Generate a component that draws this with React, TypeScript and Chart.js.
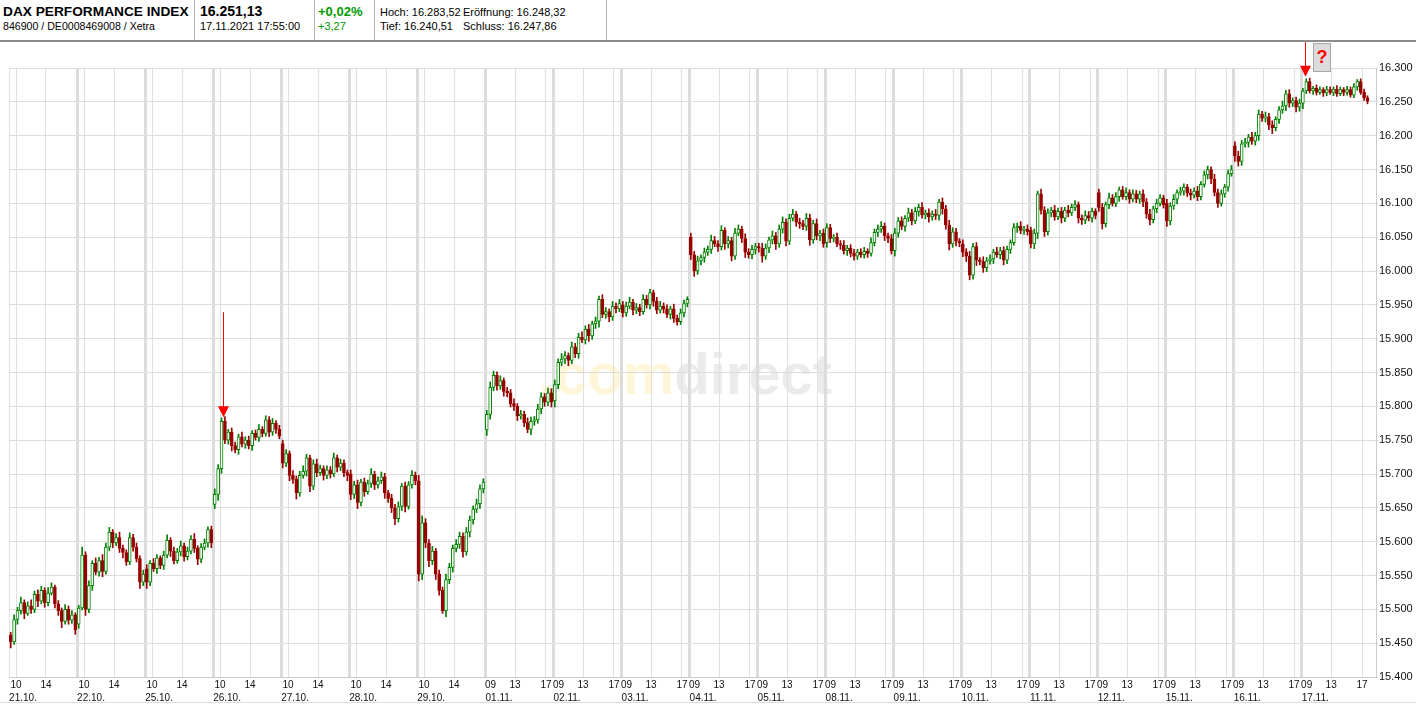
import React, { useEffect, useRef } from 'react';
import { Chart, registerables } from 'chart.js';

Chart.register(...registerables);

// ---- trading days (x axis) ----
const dayLabels = ['21.10.', '22.10.', '25.10.', '26.10.', '27.10.', '28.10.', '29.10.', '01.11.', '02.11.', '03.11.', '04.11.', '05.11.', '08.11.', '09.11.', '10.11.', '11.11.', '12.11.', '15.11.', '16.11.', '17.11.'];
const winterTimeFromDay = 7; // from 01.11. the session ticks are 09 / 13 / 17

// intraday tick labels and their position within a trading day (fraction of day)
const summerTickLabels = ['10', '14'];
const summerTickFractions = [0.103, 0.544];
const winterTickLabels = ['09', '13', '17'];
const winterTickFractions = [0.08, 0.441, 0.895];
const winterTickHasLine = [false, true, true];
const dateLabelFraction = 0.206;

// ---- prices: opening value of each day and closes of the intraday candles ----
const dayOpens = [15462, 15478, 15560, 15655, 15745, 15700, 15690, 15765, 15808, 15950, 16050, 16036, 16042, 16030, 16040, 16060, 16116, 16100, 16185, 16248];

const closes_21_10 = [15452, 15485, 15498, 15510, 15494, 15505, 15500, 15522, 15512, 15528, 15510, 15524, 15533, 15508, 15498, 15482, 15500, 15484, 15492, 15470];
const closes_22_10 = [15502, 15580, 15500, 15535, 15568, 15555, 15572, 15556, 15592, 15614, 15598, 15606, 15590, 15584, 15570, 15606, 15592, 15575, 15540, 15552];
const closes_25_10 = [15540, 15568, 15560, 15576, 15565, 15580, 15602, 15586, 15572, 15585, 15594, 15578, 15586, 15604, 15590, 15574, 15592, 15598, 15618, 15598];
const closes_26_10 = [15670, 15708, 15778, 15750, 15762, 15742, 15736, 15755, 15744, 15750, 15742, 15760, 15754, 15766, 15760, 15780, 15762, 15775, 15766, 15756];
const closes_27_10 = [15716, 15730, 15698, 15692, 15672, 15698, 15704, 15724, 15682, 15715, 15702, 15708, 15698, 15706, 15700, 15724, 15710, 15716, 15702, 15698];
const closes_28_10 = [15670, 15684, 15658, 15688, 15674, 15686, 15700, 15684, 15690, 15696, 15672, 15664, 15650, 15634, 15652, 15682, 15652, 15684, 15698, 15690];
const closes_29_10 = [15552, 15628, 15598, 15572, 15586, 15552, 15528, 15498, 15544, 15562, 15590, 15596, 15608, 15585, 15614, 15632, 15648, 15656, 15678, 15688];
const closes_01_11 = [15788, 15828, 15846, 15830, 15838, 15822, 15820, 15804, 15800, 15786, 15788, 15776, 15766, 15778, 15780, 15796, 15814, 15806, 15820, 15806];
const closes_02_11 = [15832, 15865, 15870, 15875, 15868, 15888, 15878, 15902, 15898, 15914, 15904, 15922, 15926, 15958, 15936, 15940, 15932, 15948, 15944, 15952];
const closes_03_11 = [15938, 15948, 15954, 15942, 15946, 15940, 15958, 15950, 15968, 15955, 15942, 15948, 15944, 15936, 15944, 15930, 15925, 15938, 15952, 15958];
const closes_04_11 = [16024, 16000, 16015, 16020, 16028, 16032, 16045, 16040, 16036, 16060, 16040, 16045, 16022, 16056, 16062, 16048, 16028, 16024, 16032, 16036];
const closes_05_11 = [16034, 16022, 16034, 16046, 16052, 16040, 16062, 16072, 16044, 16078, 16084, 16072, 16070, 16066, 16078, 16046, 16070, 16052, 16056, 16040];
const closes_08_11 = [16064, 16048, 16050, 16040, 16038, 16030, 16034, 16026, 16022, 16028, 16024, 16029, 16026, 16042, 16057, 16062, 16066, 16052, 16048, 16030];
const closes_09_11 = [16056, 16074, 16066, 16078, 16086, 16074, 16088, 16094, 16083, 16086, 16080, 16084, 16082, 16102, 16092, 16068, 16040, 16058, 16044, 16042];
const closes_10_11 = [16028, 16022, 15994, 16036, 16016, 16014, 16005, 16015, 16018, 16028, 16024, 16030, 16016, 16032, 16042, 16064, 16066, 16060, 16062, 16058];
const closes_11_11 = [16040, 16056, 16114, 16090, 16058, 16086, 16090, 16080, 16088, 16078, 16090, 16086, 16094, 16098, 16078, 16075, 16082, 16078, 16088, 16082];
const closes_12_11 = [16094, 16070, 16098, 16108, 16100, 16110, 16120, 16110, 16116, 16106, 16114, 16106, 16114, 16102, 16084, 16076, 16092, 16100, 16108, 16098];
const closes_15_11 = [16074, 16096, 16106, 16116, 16118, 16124, 16115, 16112, 16118, 16110, 16128, 16142, 16150, 16136, 16116, 16100, 16114, 16124, 16144, 16150];
const closes_16_11 = [16170, 16162, 16188, 16190, 16198, 16192, 16200, 16232, 16226, 16228, 16216, 16212, 16224, 16238, 16244, 16262, 16248, 16252, 16242, 16248];
const closes_17_11 = [16266, 16280, 16266, 16270, 16264, 16268, 16263, 16268, 16264, 16269, 16262, 16268, 16264, 16268, 16260, 16272, 16280, 16264, 16256, 16251];

const dayCloses = [closes_21_10, closes_22_10, closes_25_10, closes_26_10, closes_27_10, closes_28_10, closes_29_10, closes_01_11, closes_02_11, closes_03_11, closes_04_11, closes_05_11, closes_08_11, closes_09_11, closes_10_11, closes_11_11, closes_12_11, closes_15_11, closes_16_11, closes_17_11];

// ---- wick lengths (points above the body / below the body) ----
const wickUp_21_10 = [4, 7, 5, 8, 4, 6, 9, 5, 7, 6, 4, 8, 6, 3, 5, 4, 7, 5, 6, 3];
const wickDn_21_10 = [9, 4, 7, 5, 8, 3, 6, 5, 8, 4, 7, 5, 3, 6, 7, 9, 4, 6, 5, 7];
const wickUp_22_10 = [4, 12, 5, 7, 4, 8, 5, 9, 6, 7, 4, 6, 8, 5, 4, 7, 5, 6, 4, 6];
const wickDn_22_10 = [6, 3, 9, 5, 7, 4, 6, 8, 4, 5, 7, 4, 6, 8, 5, 4, 6, 5, 9, 5];
const wickUp_25_10 = [6, 4, 7, 5, 3, 6, 8, 4, 6, 5, 7, 4, 6, 5, 8, 4, 5, 6, 4, 5];
const wickDn_25_10 = [9, 5, 4, 7, 5, 6, 4, 8, 5, 4, 6, 7, 5, 4, 6, 8, 5, 4, 6, 7];
const wickUp_26_10 = [8, 6, 5, 7, 4, 6, 5, 4, 7, 5, 6, 4, 5, 7, 4, 6, 5, 7, 4, 6];
const wickDn_26_10 = [6, 9, 7, 5, 6, 8, 5, 7, 4, 6, 5, 7, 4, 6, 5, 4, 7, 5, 6, 4];
const wickUp_27_10 = [5, 6, 4, 7, 5, 6, 8, 5, 4, 6, 7, 5, 4, 6, 5, 7, 4, 6, 5, 4];
const wickDn_27_10 = [7, 5, 8, 6, 9, 5, 4, 7, 8, 5, 6, 4, 7, 5, 6, 4, 7, 5, 6, 8];
const wickUp_28_10 = [6, 5, 7, 4, 6, 5, 8, 4, 6, 7, 5, 4, 6, 5, 7, 4, 6, 5, 7, 5];
const wickDn_28_10 = [8, 6, 9, 5, 7, 4, 6, 7, 5, 4, 8, 6, 7, 9, 5, 6, 8, 4, 5, 6];
const wickUp_29_10 = [8, 10, 6, 5, 7, 4, 6, 5, 8, 6, 5, 7, 6, 5, 7, 6, 5, 7, 6, 5];
const wickDn_29_10 = [10, 8, 7, 9, 6, 8, 7, 4, 9, 6, 7, 5, 6, 8, 5, 7, 6, 5, 7, 6];
const wickUp_01_11 = [6, 8, 6, 5, 7, 4, 6, 5, 7, 4, 6, 5, 7, 6, 5, 7, 6, 5, 7, 6];
const wickDn_01_11 = [8, 7, 5, 6, 5, 7, 6, 5, 6, 7, 5, 6, 5, 8, 6, 5, 7, 6, 5, 7];
const wickUp_02_11 = [7, 5, 8, 6, 4, 7, 5, 6, 8, 5, 7, 4, 6, 5, 7, 6, 4, 7, 5, 6];
const wickDn_02_11 = [9, 6, 5, 7, 8, 5, 6, 7, 4, 6, 8, 5, 7, 9, 5, 6, 7, 5, 6, 4];
const wickUp_03_11 = [5, 6, 7, 4, 6, 5, 7, 6, 5, 4, 6, 7, 5, 6, 4, 7, 5, 6, 5, 4];
const wickDn_03_11 = [6, 5, 4, 7, 5, 6, 4, 5, 6, 7, 5, 4, 6, 5, 7, 6, 5, 4, 6, 5];
const wickUp_04_11 = [6, 5, 7, 4, 6, 5, 8, 6, 5, 7, 4, 6, 5, 7, 6, 4, 7, 5, 6, 5];
const wickDn_04_11 = [7, 8, 5, 6, 7, 5, 6, 4, 7, 5, 8, 6, 7, 5, 4, 6, 8, 5, 6, 7];
const wickUp_05_11 = [5, 7, 6, 4, 7, 5, 6, 8, 5, 6, 7, 4, 6, 5, 7, 6, 5, 7, 4, 6];
const wickDn_05_11 = [6, 9, 5, 7, 6, 8, 5, 6, 7, 5, 4, 6, 7, 5, 6, 8, 5, 6, 7, 5];
const wickUp_08_11 = [6, 5, 4, 6, 5, 7, 4, 5, 6, 4, 5, 6, 4, 7, 5, 6, 7, 5, 4, 6];
const wickDn_08_11 = [7, 6, 5, 4, 6, 5, 7, 5, 6, 5, 4, 5, 6, 4, 5, 6, 5, 7, 6, 5];
const wickUp_09_11 = [7, 5, 6, 4, 7, 5, 6, 5, 7, 4, 6, 5, 7, 4, 6, 5, 7, 6, 5, 4];
const wickDn_09_11 = [8, 6, 5, 7, 5, 6, 4, 7, 5, 6, 8, 5, 6, 7, 8, 6, 9, 5, 7, 6];
const wickUp_10_11 = [6, 5, 7, 5, 6, 4, 7, 5, 6, 4, 7, 5, 6, 5, 4, 6, 5, 7, 4, 6];
const wickDn_10_11 = [7, 8, 7, 6, 8, 5, 7, 6, 5, 7, 4, 6, 7, 5, 6, 4, 7, 5, 6, 5];
const wickUp_11_11 = [5, 6, 4, 7, 5, 6, 4, 7, 5, 6, 4, 7, 5, 6, 4, 5, 7, 6, 5, 4];
const wickDn_11_11 = [6, 7, 8, 6, 7, 5, 6, 5, 4, 7, 5, 6, 4, 5, 7, 6, 5, 4, 6, 5];
const wickUp_12_11 = [5, 6, 4, 7, 5, 6, 4, 5, 7, 4, 6, 5, 4, 6, 5, 7, 4, 6, 5, 4];
const wickDn_12_11 = [6, 8, 5, 6, 4, 5, 7, 4, 5, 6, 4, 5, 6, 7, 6, 8, 5, 6, 4, 5];
const wickUp_15_11 = [6, 5, 7, 4, 6, 5, 4, 6, 5, 7, 4, 6, 5, 4, 7, 5, 6, 4, 5, 6];
const wickDn_15_11 = [8, 6, 5, 7, 4, 6, 5, 7, 4, 6, 5, 4, 6, 7, 5, 6, 4, 5, 6, 4];
const wickUp_16_11 = [6, 7, 5, 6, 4, 7, 5, 6, 4, 7, 5, 6, 4, 5, 7, 5, 6, 4, 5, 6];
const wickDn_16_11 = [8, 7, 6, 5, 7, 5, 6, 7, 5, 6, 7, 9, 5, 6, 5, 7, 6, 5, 7, 6];
const wickUp_17_11 = [4, 4, 5, 3, 5, 4, 3, 5, 4, 3, 5, 4, 3, 5, 4, 5, 3, 4, 5, 3];
const wickDn_17_11 = [8, 4, 3, 5, 4, 3, 5, 4, 3, 5, 4, 3, 5, 4, 3, 4, 5, 3, 4, 4];

const wickUps = [wickUp_21_10, wickUp_22_10, wickUp_25_10, wickUp_26_10, wickUp_27_10, wickUp_28_10, wickUp_29_10, wickUp_01_11, wickUp_02_11, wickUp_03_11, wickUp_04_11, wickUp_05_11, wickUp_08_11, wickUp_09_11, wickUp_10_11, wickUp_11_11, wickUp_12_11, wickUp_15_11, wickUp_16_11, wickUp_17_11];
const wickDns = [wickDn_21_10, wickDn_22_10, wickDn_25_10, wickDn_26_10, wickDn_27_10, wickDn_28_10, wickDn_29_10, wickDn_01_11, wickDn_02_11, wickDn_03_11, wickDn_04_11, wickDn_05_11, wickDn_08_11, wickDn_09_11, wickDn_10_11, wickDn_11_11, wickDn_12_11, wickDn_15_11, wickDn_16_11, wickDn_17_11];

// ---- y axis ----
const yMin = 15400;
const yMax = 16300;
const yStep = 50;

// ---- markers (arrows): position in day units and price of the tip / top of the stem ----
const markerX = [3.151, 19.06];
const markerTip = [15784, 16287];
const markerTop = [15939, null];

// ---- header texts ----
const instrumentName = 'DAX PERFORMANCE INDEX';
const instrumentIds = '846900 / DE0008469008 / Xetra';
const lastPrice = '16.251,13';
const lastTime = '17.11.2021 17:55:00';
const changePct = '+0,02%';
const changeAbs = '+3,27';
const highText = 'Hoch: 16.283,52';
const openText = 'Eröffnung: 16.248,32';
const lowText = 'Tief: 16.240,51';
const prevCloseText = 'Schluss: 16.247,86';

const FONT = '"Liberation Sans", Arial, Helvetica, sans-serif';
const UP = '#008000';
const DOWN = '#990000';

type TimeTick = { value: number; text: string; kind: 'edge' | 'day' | 'thin' | 'none' };

function buildTimeTicks(): TimeTick[] {
  const out: TimeTick[] = [];
  dayLabels.forEach((_, d) => {
    out.push({ value: d, text: '', kind: d === 0 ? 'edge' : 'day' });
    if (d < winterTimeFromDay) {
      summerTickLabels.forEach((t, i) => out.push({ value: d + summerTickFractions[i], text: t, kind: 'thin' }));
    } else {
      winterTickLabels.forEach((t, i) =>
        out.push({ value: d + winterTickFractions[i], text: t, kind: winterTickHasLine[i] ? 'thin' : 'none' })
      );
    }
  });
  return out;
}

type Candle = { x: number; y: [number, number]; up: boolean };

function buildCandles() {
  const bodies: Candle[] = [];
  const wicks: Candle[] = [];
  dayCloses.forEach((closes, d) => {
    let prev = dayOpens[d];
    closes.forEach((c, i) => {
      const x = d + (i + 0.5) / closes.length;
      const up = c >= prev;
      bodies.push({ x, y: [prev, c], up });
      const hi = Math.max(prev, c) + wickUps[d][i];
      const lo = Math.min(prev, c) - wickDns[d][i];
      wicks.push({ x, y: [lo, hi], up });
      prev = c;
    });
  });
  return { bodies, wicks };
}

function fmtThousands(v: number) {
  return String(Math.round(v)).replace(/\B(?=(\d{3})+(?!\d))/g, '.');
}

export default function App() {
  const ref = useRef<HTMLCanvasElement>(null);

  useEffect(() => {
    const canvas = ref.current;
    if (!canvas) return;
    const timeTicks = buildTimeTicks();
    const { bodies, wicks } = buildCandles();
    const xMax = 20.1;

    const watermark = {
      id: 'watermark',
      beforeDraw(chart: any) {
        const { ctx, chartArea } = chart;
        ctx.save();
        ctx.font = `bold 58px ${FONT}`;
        ctx.textBaseline = 'alphabetic';
        const a = '.com';
        const b = 'direct';
        const wa = ctx.measureText(a).width;
        const wb = ctx.measureText(b).width;
        const cx = (chartArea.left + chartArea.right) / 2 - 7;
        const base = (chartArea.top + chartArea.bottom) / 2 + 21;
        const x0 = cx - (wa + wb) / 2;
        ctx.fillStyle = '#fff6da';
        ctx.fillText(a, x0, base);
        ctx.fillStyle = '#ebebeb';
        ctx.fillText(b, x0 + wa, base);
        ctx.restore();
      },
    };

    const markers = {
      id: 'markers',
      afterDatasetsDraw(chart: any) {
        const { ctx } = chart;
        const xs = chart.scales.x;
        const ys = chart.scales.y;
        ctx.save();
        markerX.forEach((mx, i) => {
          const px = Math.round(xs.getPixelForValue(mx)) + 0.5;
          const tipY = ys.getPixelForValue(markerTip[i]);
          const topVal = markerTop[i];
          const topY = topVal == null ? 42 : ys.getPixelForValue(topVal);
          ctx.strokeStyle = '#ff0000';
          ctx.lineWidth = 1;
          ctx.beginPath();
          ctx.moveTo(px, topY);
          ctx.lineTo(px, tipY - 10);
          ctx.stroke();
          ctx.fillStyle = '#ff0000';
          ctx.beginPath();
          ctx.moveTo(px - 5.5, tipY - 11);
          ctx.lineTo(px + 5.5, tipY - 11);
          ctx.lineTo(px, tipY);
          ctx.closePath();
          ctx.fill();
        });
        ctx.restore();
      },
    };

    const chart = new Chart(canvas, {
      type: 'bar',
      data: {
        datasets: [
          {
            data: bodies as any,
            grouped: false,
            barThickness: 3,
            borderWidth: 1,
            borderSkipped: false,
            backgroundColor: (c: any) => (c.raw && c.raw.up ? '#ffffff' : DOWN),
            borderColor: (c: any) => (c.raw && c.raw.up ? UP : DOWN),
          } as any,
          {
            data: wicks as any,
            grouped: false,
            barThickness: 1,
            borderWidth: 0,
            backgroundColor: (c: any) => (c.raw && c.raw.up ? UP : DOWN),
          } as any,
        ],
      },
      options: {
        animation: false,
        responsive: false,
        devicePixelRatio: 1,
        events: [],
        layout: { padding: { left: 9, right: 0, top: 68, bottom: 1 } },
        plugins: { legend: { display: false }, tooltip: { enabled: false }, title: { display: false } },
        scales: {
          x: {
            type: 'linear',
            position: 'bottom',
            weight: 0,
            min: 0,
            max: xMax,
            offset: false,
            afterBuildTicks: (scale: any) => {
              scale.ticks = timeTicks.map((t) => ({ value: t.value }));
            },
            afterFit: (scale: any) => {
              scale.height = 15;
            },
            grid: {
              offset: false,
              drawTicks: false,
              color: (c: any) => {
                const t = timeTicks[c.index];
                if (!t || t.kind === 'none') return 'rgba(0,0,0,0)';
                return t.kind === 'day' ? '#dcdcdc' : '#e0e0e0';
              },
              lineWidth: (c: any) => (timeTicks[c.index] && timeTicks[c.index].kind === 'day' ? 3 : 1),
            },
            border: { display: true, color: '#cccccc', width: 1 },
            ticks: {
              autoSkip: false,
              maxRotation: 0,
              minRotation: 0,
              padding: 2,
              color: '#111111',
              font: { family: FONT, size: 10 },
              callback: (_v: any, i: number) => (timeTicks[i] ? timeTicks[i].text : ''),
            },
          },
          x2: {
            type: 'linear',
            position: 'bottom',
            weight: 1,
            min: 0,
            max: xMax,
            offset: false,
            afterBuildTicks: (scale: any) => {
              scale.ticks = dayLabels.map((_, d) => ({ value: d + dateLabelFraction }));
            },
            afterFit: (scale: any) => {
              scale.height = 12;
            },
            grid: { display: false, drawTicks: false },
            border: { display: false },
            ticks: {
              autoSkip: false,
              maxRotation: 0,
              minRotation: 0,
              padding: 0,
              color: '#111111',
              font: { family: FONT, size: 10 },
              callback: (_v: any, i: number) => dayLabels[i] || '',
            },
          },
          y: {
            type: 'linear',
            position: 'right',
            min: yMin,
            max: yMax,
            afterFit: (scale: any) => {
              scale.width = 40;
            },
            grid: { color: '#dcdcdc', lineWidth: 1, tickLength: 2 },
            border: { display: true, color: '#cccccc' },
            ticks: {
              stepSize: yStep,
              padding: 1,
              color: '#111111',
              font: { family: FONT, size: 11 },
              callback: (v: any) => fmtThousands(Number(v)),
            },
          },
        },
      } as any,
      plugins: [watermark, markers],
    });
    return () => chart.destroy();
  }, []);

  const txt = (left: number, top: number, size: number, bold: boolean, color: string, text: string) => (
    <div
      style={{
        position: 'absolute',
        left,
        top,
        fontSize: size,
        lineHeight: `${size}px`,
        fontWeight: bold ? 'bold' : 'normal',
        color,
        whiteSpace: 'nowrap',
      }}
    >
      {text}
    </div>
  );

  return (
    <div
      style={{
        position: 'absolute',
        left: 0,
        top: 0,
        width: 1416,
        height: 705,
        background: '#ffffff',
        overflow: 'hidden',
        fontFamily: FONT,
      }}
    >
      <canvas ref={ref} width={1416} height={705} style={{ position: 'absolute', left: 0, top: 0, width: 1416, height: 705 }} />
      <div style={{ position: 'absolute', left: 0, top: 0, width: 1416, height: 40, background: '#ffffff', borderBottom: '2px solid #8c8c8c' }} />
      {[194, 314, 374, 606].map((x) => (
        <div key={x} style={{ position: 'absolute', left: x, top: 0, width: 1, height: 40, background: '#b4b4b4' }} />
      ))}
      {txt(3, 5, 13.7, true, '#000', instrumentName)}
      {txt(3, 21, 10.6, false, '#000', instrumentIds)}
      {txt(200, 4, 14, true, '#000', lastPrice)}
      {txt(200, 21, 11, false, '#000', lastTime)}
      {txt(318, 5, 13, true, '#009900', changePct)}
      {txt(318, 21, 11, false, '#009900', changeAbs)}
      {txt(380, 7, 11, false, '#000', highText)}
      {txt(463, 7, 11, false, '#000', openText)}
      {txt(380, 21, 11, false, '#000', lowText)}
      {txt(463, 21, 11, false, '#000', prevCloseText)}
      <div
        style={{
          position: 'absolute',
          left: 1313,
          top: 43,
          width: 16,
          height: 27,
          background: '#dcdcdc',
          border: '1px solid #a8a8a8',
          color: '#ff0000',
          fontWeight: 'bold',
          fontSize: 18,
          lineHeight: '27px',
          textAlign: 'center',
        }}
      >
        ?
      </div>
      <div style={{ position: 'absolute', left: 0, top: 702, width: 1416, height: 1, background: '#dddddd' }} />
    </div>
  );
}
